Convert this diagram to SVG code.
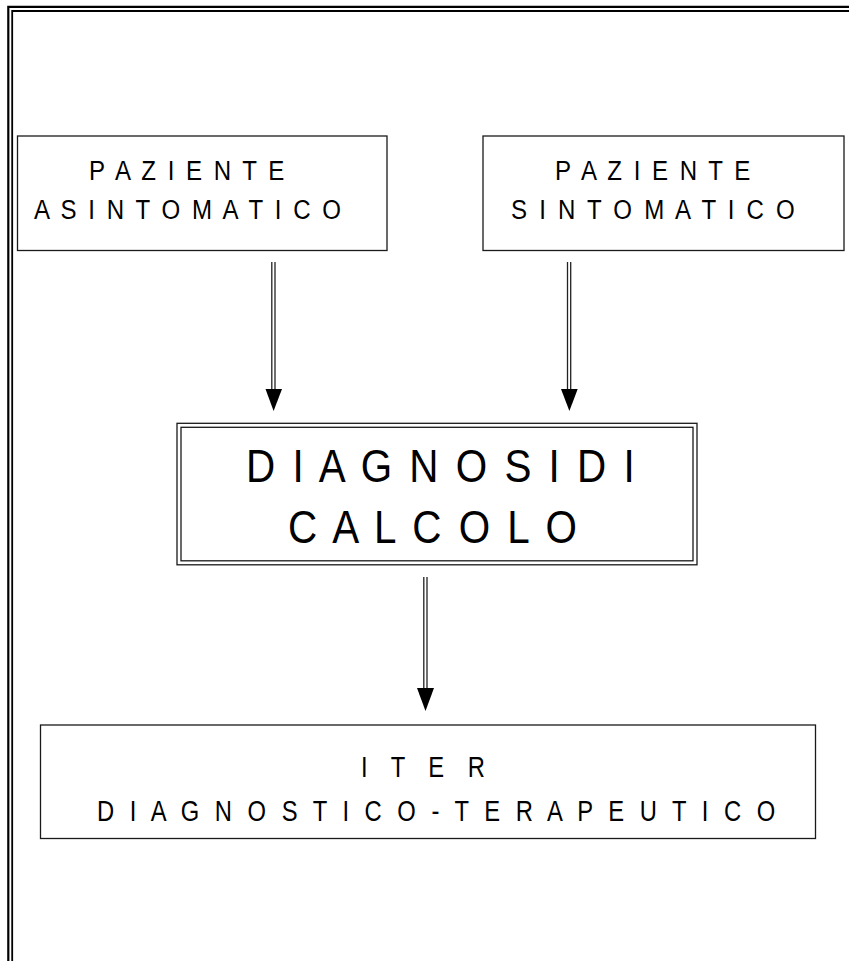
<svg xmlns="http://www.w3.org/2000/svg" width="849" height="961" viewBox="0 0 849 961">
<defs>
<style>
.frame{fill:none;stroke:#000;}
.box{fill:#fff;stroke:#1a1a1a;stroke-width:1.3;}
.t{font-family:"Liberation Sans",Arial,sans-serif;fill:#000;}
.s{font-size:28px;}
.m{font-size:47px;}
.b{font-size:29px;}
.shaft{stroke:#222;stroke-width:1.3;fill:none;}
.head{fill:#000;}
</style>
</defs>
<rect width="849" height="961" fill="#fff"/>
<g id="page-frame">
<path class="frame" d="M8.3,961 V6.8 H849" stroke-width="2.2"/>
<path class="frame" d="M12.2,961 V11 H849" stroke-width="1.8"/>
</g>
<g id="connectors">
<g id="arrow-asintomatico">
<line class="shaft" x1="271.8" y1="262" x2="271.8" y2="392"/>
<line class="shaft" x1="275" y1="262" x2="275" y2="392"/>
<polygon class="head" points="265.5,389 282,389 273.6,411"/>
</g>
<g id="arrow-sintomatico">
<line class="shaft" x1="567.5" y1="262" x2="567.5" y2="392"/>
<line class="shaft" x1="570.7" y1="262" x2="570.7" y2="392"/>
<polygon class="head" points="561,389 577.7,389 569.4,411"/>
</g>
<g id="arrow-diagnosi">
<line class="shaft" x1="423.8" y1="577" x2="423.8" y2="690"/>
<line class="shaft" x1="427" y1="577" x2="427" y2="690"/>
<polygon class="head" points="417,688 434,688 425.5,711"/>
</g>
</g>
<g id="node-asintomatico">
<rect class="box" x="17.5" y="136" width="369.5" height="114.5"/>
<text class="t s" transform="translate(89,180) scale(0.86,1)" textLength="227" lengthAdjust="spacing">P A Z I E N T E</text>
<text class="t s" transform="translate(34,219) scale(0.86,1)" textLength="357" lengthAdjust="spacing">A S I N T O M A T I C O</text>
</g>
<g id="node-sintomatico">
<rect class="box" x="483" y="136" width="361" height="114.5"/>
<text class="t s" transform="translate(555,180) scale(0.86,1)" textLength="227" lengthAdjust="spacing">P A Z I E N T E</text>
<text class="t s" transform="translate(511,219) scale(0.86,1)" textLength="330" lengthAdjust="spacing">S I N T O M A T I C O</text>
</g>
<g id="node-diagnosi">
<rect class="box" x="177" y="423.3" width="520" height="141.5"/>
<rect class="box" x="181" y="427.3" width="512" height="133.5"/>
<text class="t m" transform="translate(246,482) scale(0.86,1)" textLength="452" lengthAdjust="spacing">D I A G N O S I D I</text>
<text class="t m" transform="translate(288,543) scale(0.86,1)" textLength="336" lengthAdjust="spacing">C A L C O L O</text>
</g>
<g id="node-iter">
<rect class="box" x="40.5" y="725" width="775" height="113.5"/>
<text class="t b" transform="translate(361,777) scale(0.82,1)" textLength="151" lengthAdjust="spacing">I T E R</text>
<text class="t b" transform="translate(97,821) scale(0.82,1)" textLength="827" lengthAdjust="spacing">D I A G N O S T I C O - T E R A P E U T I C O</text>
</g>
</svg>
